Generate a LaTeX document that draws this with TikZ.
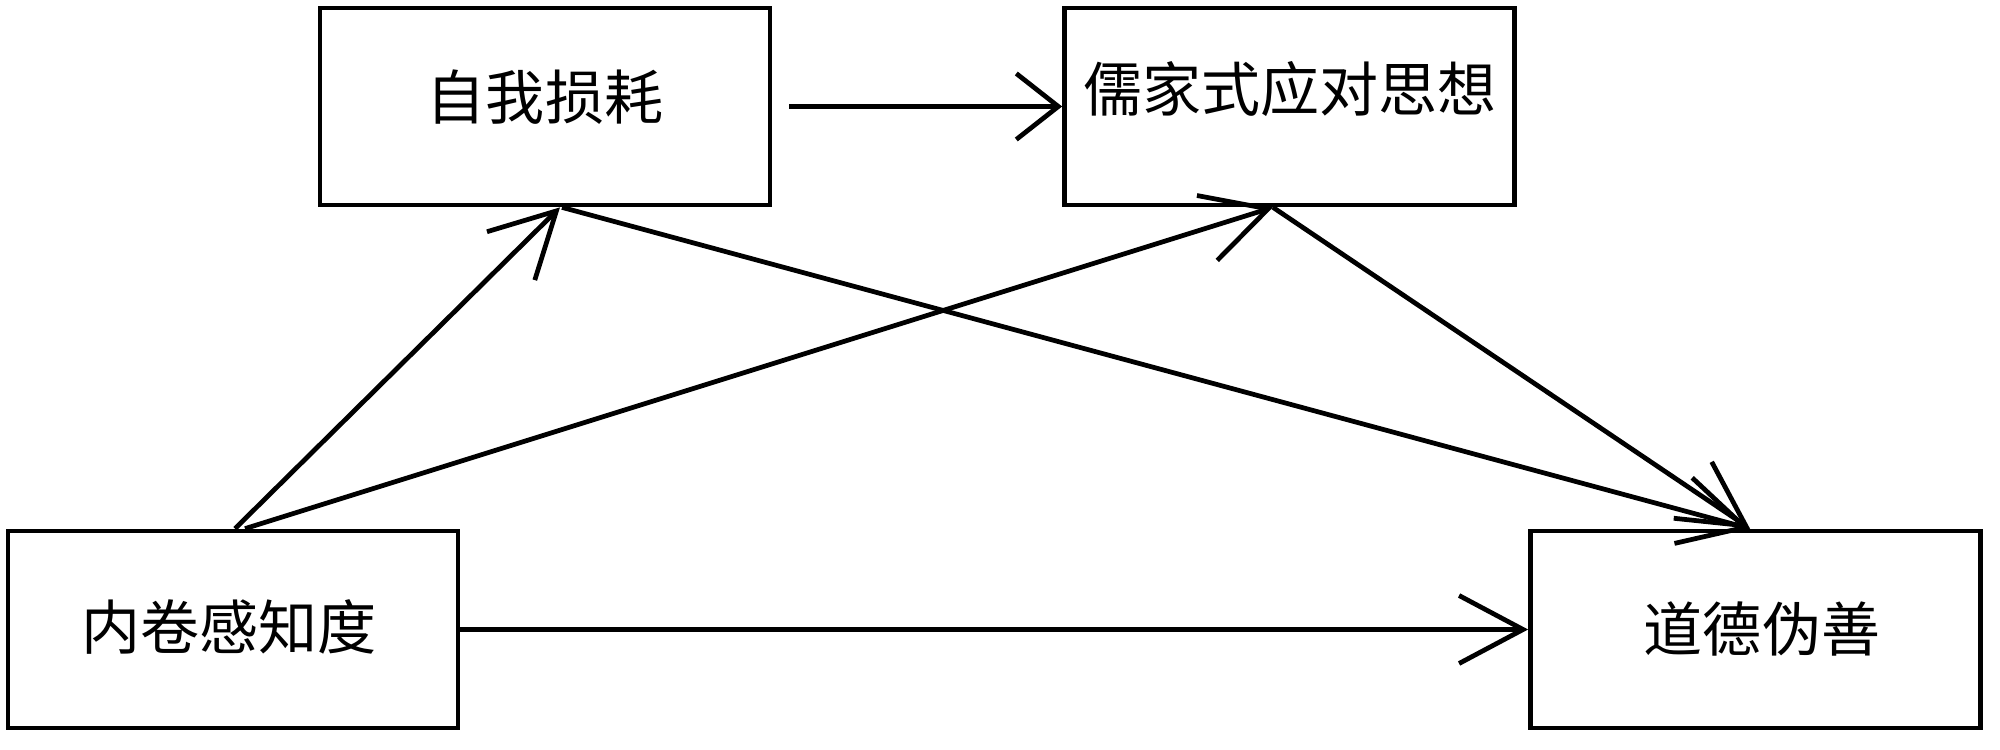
\documentclass[tikz,border=0pt]{standalone}
\usepackage{fontspec}
\newfontfamily\cjk{Noto Sans CJK SC}
\usetikzlibrary{arrows.meta}
\begin{document}
\begin{tikzpicture}[x=0.1mm,y=-0.1mm, line width=1.35pt,
  box/.style={draw, rectangle, minimum width=45mm, minimum height=19.7mm, inner sep=0pt},
  lbl/.style={font=\cjk\fontsize{16.8pt}{20pt}\selectfont, inner sep=0pt},
  conn/.style={-{Straight Barb[length=6.4mm,width=6.8mm]}},
  connsmall/.style={-{Straight Barb[length=4.2mm,width=6.6mm]}}
  ]
\useasboundingbox (0,0) rectangle (2000,750);
\node[box] (a) at (545,106.5) {};
\node[lbl] (ta) at (545,97) {自我损耗};
\node[box] (b) at (1289.5,106.5) {};
\node[lbl] (tb) at (1290,89) {儒家式应对思想};
\node[box] (c) at (233,629.5) {};
\node[lbl] (tc) at (229,627) {内卷感知度};
\node[box] (d) at (1755.5,629.5) {};
\node[lbl] (td) at (1762,629) {道德伪善};

\draw[connsmall] ([xshift=1.7mm]a.east) -- (b.west);
\draw[conn] (c.east) -- (d.west);
\draw[conn] ([xshift=0.2mm]c.north) -- ([xshift=1.5mm]a.south);
\draw[conn] ([xshift=1.2mm]c.north) -- ([xshift=-1.65mm]b.south);
\draw[conn] ([xshift=1.7mm]a.south) -- ([xshift=-0.55mm]d.north);
\draw[conn] ([xshift=-1.65mm]b.south) -- ([xshift=-0.55mm]d.north);
\end{tikzpicture}
\end{document}
